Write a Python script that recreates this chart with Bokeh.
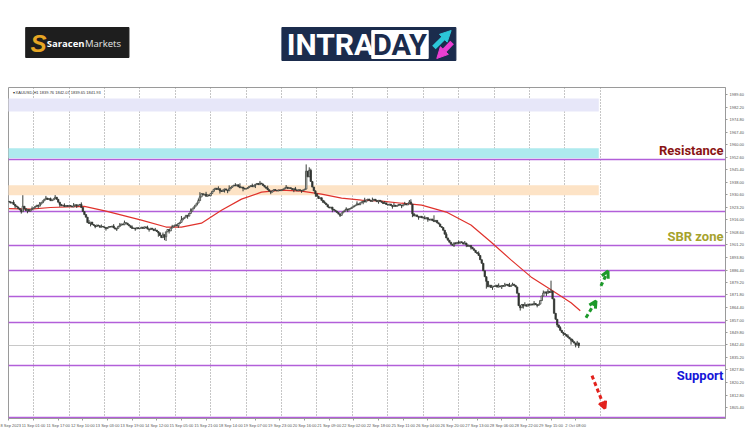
from bokeh.plotting import figure
from bokeh.layouts import column
from bokeh.models import Range1d, FixedTicker, PrintfTickFormatter, Label, Arrow, OpenHead, NormalHead
from bokeh.embed import file_html
from bokeh.resources import INLINE
from bokeh.core.properties import value

# ---------------- data ----------------
symbol_info = "\u25be XAUUSD,H1  1839.76 1842.07 1839.65 1841.93"
first_open = 1926.8
closes = [
    1926.5, 1925.8, 1926.2, 1925.0, 1924.1, 1923.5, 1922.6, 1921.8, 1920.7, 1923.9, 1922.5, 1921.3, 1922.0, 1921.0, 1921.8, 1922.5,
    1923.0, 1923.8, 1924.5, 1924.0, 1925.2, 1926.0, 1927.1, 1928.0, 1928.7, 1927.9, 1928.4, 1927.2, 1927.6, 1928.3, 1929.2, 1928.0, 1926.3, 1925.0, 1924.2, 1924.5, 1923.8, 1924.3, 1923.9,
    1924.3, 1924.0, 1923.5, 1924.2, 1924.8, 1924.1, 1924.6, 1925.0, 1923.2, 1920.8, 1919.0, 1917.5, 1914.3, 1913.8, 1914.6, 1913.2, 1912.7, 1912.0, 1912.9, 1912.4, 1911.6, 1912.1, 1911.8,
    1911.4, 1910.8, 1911.5, 1912.0, 1911.7, 1912.3, 1911.2, 1910.5, 1911.0, 1912.1, 1912.8, 1913.5, 1913.0, 1914.2, 1914.0, 1913.1, 1912.4, 1911.5, 1910.9, 1911.1, 1910.6, 1911.3, 1910.8,
    1911.0, 1911.6, 1910.9, 1911.8, 1911.3, 1910.5, 1910.2, 1911.0, 1910.4, 1909.6, 1909.9, 1909.1, 1908.3, 1906.8, 1905.5, 1907.2, 1906.0, 1908.9, 1910.2, 1909.4, 1911.1, 1911.8, 1912.4,
    1913.0, 1912.4, 1913.8, 1914.5, 1915.9, 1916.8, 1917.5, 1918.6, 1918.1, 1919.7, 1921.0, 1922.4, 1923.5, 1924.6, 1925.8, 1927.2, 1929.4, 1931.3, 1930.5, 1931.0, 1929.8, 1930.6, 1930.1,
    1931.5, 1932.7, 1933.9, 1934.5, 1933.8, 1934.2, 1933.0, 1932.6, 1933.5, 1934.1, 1933.4, 1933.0, 1934.2, 1935.0, 1935.8, 1936.3, 1935.9, 1936.5, 1935.4, 1934.8, 1935.2, 1934.5, 1934.0,
    1934.3, 1934.9, 1935.6, 1936.0, 1935.4, 1936.2, 1936.8, 1937.3, 1936.6, 1937.5, 1937.0, 1936.1, 1935.2, 1934.5, 1933.6, 1932.8, 1932.2, 1933.0, 1933.7, 1933.2, 1932.9, 1933.5, 1933.1,
    1933.6, 1934.0, 1934.6, 1935.1, 1934.4, 1934.8, 1934.3, 1933.7, 1934.2, 1933.5, 1933.0, 1933.6, 1933.2, 1932.9, 1933.5, 1934.0, 1944.5, 1941.2, 1945.0, 1938.5, 1935.2, 1933.0, 1931.2,
    1929.8, 1928.5, 1928.9, 1927.4, 1926.2, 1925.7, 1924.8, 1923.5, 1922.9, 1923.4, 1922.1, 1921.6, 1921.0, 1920.2, 1919.3, 1918.6, 1920.0, 1920.8, 1921.6, 1922.3, 1921.7, 1922.5, 1922.9,
    1923.5, 1924.1, 1924.6, 1925.3, 1924.8, 1925.9, 1926.5, 1927.0, 1926.4, 1927.6, 1928.1, 1927.3, 1926.8, 1927.5, 1928.0, 1927.2, 1926.6, 1927.4, 1926.9, 1926.2, 1925.5, 1925.9, 1925.0,
    1924.6, 1925.2, 1924.4, 1923.8, 1924.5, 1923.9, 1924.3, 1925.0, 1924.6, 1924.1, 1924.8, 1925.3, 1924.7, 1925.6, 1926.4, 1925.2, 1919.5, 1918.2, 1918.8, 1917.9, 1917.4, 1918.0, 1917.2,
    1917.0, 1916.5, 1917.2, 1916.3, 1915.8, 1916.4, 1915.5, 1914.9, 1915.6, 1914.2, 1913.5, 1912.0, 1911.4, 1909.8, 1907.5, 1905.3, 1904.0, 1902.8, 1901.6, 1901.0, 1902.4, 1901.8, 1902.7,
    1902.2, 1903.0, 1902.5, 1901.7, 1902.3, 1901.2, 1900.4, 1900.9, 1899.8, 1898.9, 1898.0, 1896.8, 1896.2, 1895.0, 1892.5, 1890.4, 1886.0, 1882.5, 1879.8, 1876.6, 1877.5, 1876.2, 1877.0,
    1876.8, 1877.5, 1876.4, 1877.1, 1876.6, 1877.3, 1876.9, 1877.6, 1878.0, 1877.2, 1876.8, 1877.5, 1878.1, 1877.4, 1876.5, 1872.8, 1865.5, 1864.3, 1866.2, 1865.4, 1866.0, 1865.2, 1866.4,
    1865.8, 1866.5, 1865.9, 1866.8, 1866.1, 1865.7, 1866.4, 1868.5, 1871.2, 1872.9, 1873.6, 1872.8, 1873.9, 1873.2, 1874.1, 1869.5, 1861.0, 1857.5, 1854.2, 1852.6, 1851.0, 1849.8, 1849.2,
    1848.5, 1847.6, 1846.9, 1846.0, 1845.2, 1844.3, 1843.5, 1842.4, 1843.6, 1841.9,
]
spike_high = {3: 1927.5, 9: 1930.4, 15: 1923.8, 20: 1926.4, 24: 1930.0, 27: 1929.0, 30: 1930.5,
              36: 1925.6, 42: 1925.8, 47: 1926.2, 52: 1915.8, 60: 1913.2, 68: 1913.4, 72: 1914.1,
              75: 1915.5, 80: 1912.6, 90: 1912.5, 95: 1911.2, 100: 1908.5, 106: 1913.0, 112: 1918.2,
              118: 1922.6, 123: 1928.5, 124: 1932.2, 128: 1932.4, 136: 1935.6, 143: 1936.2,
              147: 1937.5, 150: 1937.4, 158: 1937.2, 163: 1938.8, 168: 1936.0, 180: 1936.4,
              186: 1935.3, 193: 1948.5, 195: 1946.8, 196: 1946.0, 205: 1927.2, 219: 1923.3,
              226: 1926.8, 231: 1928.9, 236: 1929.0, 244: 1927.0, 250: 1926.0, 257: 1926.5,
              260: 1927.6, 261: 1928.0, 270: 1918.4, 276: 1918.6, 284: 1908.6, 292: 1903.8,
              296: 1903.5, 305: 1897.4, 318: 1878.6, 322: 1878.9, 325: 1878.9, 327: 1879.0,
              335: 1867.5, 341: 1868.2, 347: 1874.4, 350: 1875.2, 352: 1880.2, 358: 1853.4,
              363: 1848.6, 366: 1846.0, 369: 1844.8}
spike_low = {4: 1922.8, 8: 1919.6, 12: 1919.8, 19: 1922.6, 33: 1923.6, 44: 1922.9, 53: 1912.1,
             56: 1911.0, 63: 1909.6, 70: 1909.4, 82: 1909.5, 91: 1909.0, 97: 1906.0, 101: 1904.0,
             102: 1903.5, 104: 1907.9, 110: 1911.2, 116: 1916.6, 137: 1931.4, 140: 1932.0,
             142: 1931.6, 152: 1932.7, 160: 1934.6, 170: 1931.0, 185: 1932.2, 190: 1931.8,
             199: 1929.5, 210: 1920.4, 215: 1917.6, 220: 1920.5, 230: 1925.1, 240: 1925.4,
             249: 1922.5, 255: 1922.8, 262: 1917.5, 266: 1916.0, 272: 1914.8, 282: 1910.0,
             289: 1900.0, 297: 1899.9, 300: 1898.5, 310: 1875.5, 314: 1874.8, 320: 1875.3,
             332: 1862.6, 334: 1863.8, 343: 1864.5, 349: 1871.2, 356: 1853.0, 360: 1847.8,
             365: 1842.6, 368: 1841.0, 370: 1840.6}

ma_bar = [0, 14, 27, 49, 63, 86, 102, 112, 125, 138, 151, 164, 177, 190, 203, 216, 229, 242, 255,
          268, 284, 300, 313, 326, 339, 352, 365, 371]
ma_val = [1922.5, 1922.2, 1923.2, 1923.8, 1921.1, 1915.8, 1911.7, 1911.7, 1914.0, 1921.6, 1928.1,
          1932.2, 1933.4, 1932.8, 1931.0, 1928.7, 1927.5, 1926.9, 1925.7, 1924.6, 1920.5, 1912.9,
          1902.9, 1892.4, 1882.4, 1874.8, 1867.2, 1862.5]

levels = [1951.5, 1921.1, 1901.1, 1885.9, 1870.7, 1855.4, 1830.3, 1799.8]
level_tags = ["1951.50", "1921.10", "1901.10", "1885.90", "1870.70", "1855.40", "1830.30", "1799.80"]
current_price = 1841.93
current_tag = "1841.93"

zone_bottom = [1979.6, 1952.1, 1930.4]
zone_top = [1987.3, 1958.0, 1936.3]
zone_colors = ["#e7e7f9", "#aeeaee", "#fde3c6"]
zone_start_bar = -1
zone_end_bar = 383

day_start_bars = [16, 39, 62, 85, 108, 131, 154, 177, 200, 223, 246, 269, 292, 315, 338, 361, 384]
xtick_bars = [0, 16, 32, 48, 64, 80, 96, 112, 128, 144, 160, 176, 192, 208, 224, 240, 256, 272,
              288, 304, 320, 336, 352, 368]
xtick_labels = ["8 Sep 2023", "11 Sep 01:00", "11 Sep 17:00", "12 Sep 10:00", "13 Sep 03:00",
                "13 Sep 19:00", "14 Sep 12:00", "15 Sep 05:00", "15 Sep 21:00", "18 Sep 14:00",
                "19 Sep 07:00", "19 Sep 23:00", "20 Sep 16:00", "21 Sep 09:00", "22 Sep 02:00",
                "22 Sep 18:00", "25 Sep 11:00", "26 Sep 04:00", "26 Sep 20:00", "27 Sep 13:00",
                "28 Sep 06:00", "28 Sep 22:00", "29 Sep 15:00", "2 Oct 08:00"]
ytick_values = [1989.6, 1982.2, 1974.8, 1967.4, 1960.0, 1952.6, 1945.4, 1938.0, 1930.6, 1923.2,
                1916.0, 1908.6, 1901.2, 1893.8, 1886.4, 1879.2, 1871.8, 1864.4, 1857.0, 1849.8,
                1842.4, 1835.2, 1827.8, 1820.2, 1812.8, 1805.4]

# annotation arrows (bar, price)
green_arrows = [((374.7, 1858.4), (381.2, 1868.3)), ((384.4, 1877.1), (389.0, 1885.9))]
red_arrows = [((378.6, 1824.4), (387.0, 1805.1))]

zone_names = [("Resistance", 1951.5, "#8a1414", "above"),
              ("SBR zone", 1901.1, "#a6a22c", "above"),
              ("Support", 1830.3, "#1616d8", "below")]

# ---------------- derived OHLC ----------------
n = len(closes)
xs = list(range(n))
opens = [first_open] + closes[:-1]
body_top = [max(o, c) for o, c in zip(opens, closes)]
body_bot = [min(o, c) for o, c in zip(opens, closes)]
highs = [max(spike_high.get(i, body_top[i]), body_top[i]) for i in xs]
lows = [min(spike_low.get(i, body_bot[i]), body_bot[i]) for i in xs]
body_fill = ["#ffffff" if c >= o else "#2a2a2a" for o, c in zip(opens, closes)]

X0, X1 = -0.3, 465.3
Y0, Y1 = 1799.2, 1993.7

# ---------------- header ----------------
h = figure(width=750, height=86, x_range=Range1d(0, 750), y_range=Range1d(86, 0),
           toolbar_location=None, output_backend="svg", x_axis_location=None,
           y_axis_location=None, min_border=0)
h.grid.visible = False
h.outline_line_color = None
h.quad(left=[18], right=[126], top=[27], bottom=[57], color="#1e1e1e")
h.text(x=[23], y=[43], text=["S"], text_font=value("Liberation Sans"), text_font_style="bold italic",
       text_font_size="24px", text_color="#e7a624", text_align="left", text_baseline="middle")
h.text(x=[40], y=[43], text=["Saracen"], text_font=value("Open Sans"), text_font_style="bold",
       text_font_size="9.5px", text_color="#ffffff", text_align="left", text_baseline="middle")
h.text(x=[80], y=[43], text=["Markets"], text_font=value("Open Sans"),
       text_font_size="9.5px", text_color="#e8e8e8", text_align="left", text_baseline="middle")
h.quad(left=[286], right=[468], top=[27], bottom=[60], color="#1b2c4d")
h.text(x=[291], y=[44], text=["INTRA"], text_font=value("Roboto"),
       text_font_style="bold", text_font_size="30px", text_color="#ffffff",
       text_align="left", text_baseline="middle")
h.quad(left=[380], right=[439], top=[30], bottom=[58], color="#ffffff")
h.text(x=[409.5], y=[44], text=["DAY"], text_font=value("Roboto"),
       text_font_style="bold", text_font_size="29px", text_color="#1b2c4d",
       text_align="center", text_baseline="middle")
h.add_layout(Arrow(x_start=445, y_start=47, x_end=463, y_end=30, line_color="#2cc6d8", line_width=5,
                   end=NormalHead(size=11, fill_color="#2cc6d8", line_color="#2cc6d8")))
h.add_layout(Arrow(x_start=464, y_start=42, x_end=448, y_end=58, line_color="#ea3fd2", line_width=5,
                   end=NormalHead(size=11, fill_color="#ea3fd2", line_color="#ea3fd2")))

# ---------------- main chart ----------------
p = figure(width=750, height=344, x_range=Range1d(X0, X1), y_range=Range1d(Y0, Y1),
           y_axis_location="right", toolbar_location=None, output_backend="svg",
           min_border_left=8, min_border_right=25, min_border_top=1, min_border_bottom=11)
p.background_fill_color = "#ffffff"
p.border_fill_color = "#ffffff"
p.outline_line_color = "#9a9a9a"

p.quad(left=[zone_start_bar] * 3, right=[zone_end_bar] * 3, bottom=zone_bottom, top=zone_top,
       fill_color=zone_colors, line_color=None)

p.ygrid.visible = False
p.xgrid.ticker = FixedTicker(ticks=day_start_bars)
p.xgrid.grid_line_color = "#8c8c8c"
p.xgrid.grid_line_dash = "1 2"
p.xgrid.grid_line_width = 1

p.hspan(y=[current_price], line_color="#c8c8c8", line_width=1)
p.hspan(y=levels, line_color="#b25fd9", line_width=1.6)

p.line(ma_bar, ma_val, line_color="#e0322c", line_width=1.2)

p.segment(x0=xs, y0=lows, x1=xs, y1=highs, line_color="#3a3f3a", line_width=1)
p.vbar(x=xs, width=0.9, top=body_top, bottom=body_bot, fill_color=body_fill,
       line_color="#3a3f3a", line_width=0.8)

# axes
ya = p.yaxis[0]
ya.ticker = FixedTicker(ticks=ytick_values)
ya.formatter = PrintfTickFormatter(format="%.2f")
ya.major_label_text_font_size = "4px"
ya.major_label_text_color = "#555555"
ya.major_label_standoff = 2
ya.major_tick_out = 2
ya.major_tick_in = 0
ya.minor_tick_out = 0
ya.minor_tick_in = 0
ya.axis_line_color = "#9a9a9a"
ya.major_tick_line_color = "#9a9a9a"

xa = p.xaxis[0]
xa.ticker = FixedTicker(ticks=xtick_bars)
xa.major_label_overrides = {b: s for b, s in zip(xtick_bars, xtick_labels)}
xa.major_label_text_font_size = "4px"
xa.major_label_text_color = "#555555"
xa.major_label_text_align = "left"
xa.major_label_standoff = 2
xa.major_tick_out = 2
xa.major_tick_in = 0
xa.minor_tick_out = 0
xa.minor_tick_in = 0
xa.axis_line_color = "#9a9a9a"
xa.major_tick_line_color = "#9a9a9a"

# price tags on the right scale
for lvl, tag in zip(levels, level_tags):
    p.add_layout(Label(x=X1, y=lvl, x_offset=1, text=tag, text_font_size="4px", text_color="#ffffff",
                       text_align="left", text_baseline="middle", background_fill_color="#a43fe0",
                       padding=1))
p.add_layout(Label(x=X1, y=current_price, x_offset=1, text=current_tag, text_font_size="4px",
                   text_color="#ffffff", text_align="left", text_baseline="middle",
                   background_fill_color="#111111", padding=1))

p.add_layout(Label(x=X0, y=Y1, x_offset=4, y_offset=-2, text=symbol_info, text_font_size="4px",
                   text_color="#333333", text_align="left", text_baseline="top"))

for name, lvl, col, pos in zone_names:
    p.add_layout(Label(x=X1, y=lvl, x_offset=-2, y_offset=(1 if pos == "above" else -2), text=name,
                       text_font="Roboto", text_font_style="bold",
                       text_font_size="13px", text_color=col, text_align="right",
                       text_baseline=("bottom" if pos == "above" else "top")))

for (s, e) in green_arrows:
    p.add_layout(Arrow(x_start=s[0], y_start=s[1], x_end=e[0], y_end=e[1], line_color="#1c9a2a",
                       line_width=3, line_dash="4 3",
                       end=OpenHead(size=7, line_color="#1c9a2a", line_width=3)))
for (s, e) in red_arrows:
    p.add_layout(Arrow(x_start=s[0], y_start=s[1], x_end=e[0], y_end=e[1], line_color="#e2211c",
                       line_width=3, line_dash="4 3",
                       end=OpenHead(size=7, line_color="#e2211c", line_width=3)))

layout = column(h, p, spacing=0)
open("out.html", "w").write(file_html(layout, INLINE))
